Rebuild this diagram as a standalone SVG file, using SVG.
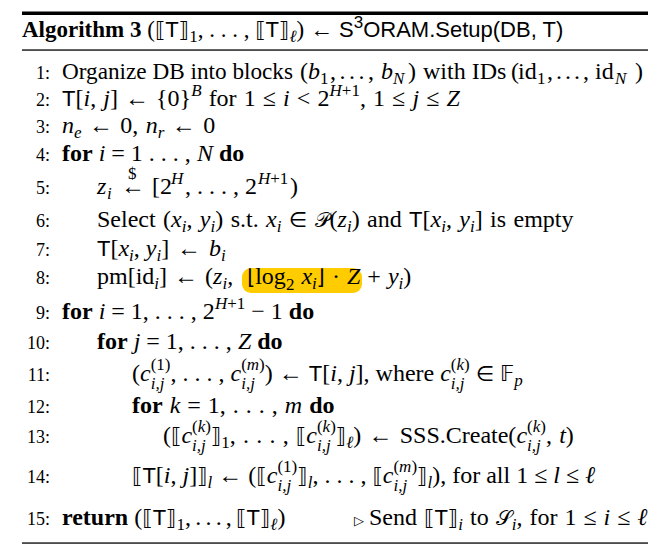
<svg xmlns="http://www.w3.org/2000/svg" width="670" height="557" viewBox="0 0 670 557">
<style>
text { font-family: "Liberation Serif", "DejaVu Serif", serif; font-size: 24px; fill: #000; }
.b { font-weight: bold; }
.i { font-style: italic; }
.sf { font-family: "Liberation Sans", "DejaVu Sans", sans-serif; font-size: 22px; }
.sy { font-family: "DejaVu Sans", "Liberation Serif", sans-serif; font-size: 21px; }
.sc { font-size: 17px; }
.ln { font-size: 18px; text-anchor: end; }
</style>
<rect width="670" height="557" fill="#fff"/>
<g id="rules">
  <rect x="22" y="11.5" width="626" height="3.5" fill="#000"/>
  <rect x="22" y="49.4" width="626" height="1.3" fill="#000"/>
  <rect x="22" y="542.4" width="626" height="1.3" fill="#000"/>
</g>
<g id="highlight">
  <rect x="242" y="268" width="120" height="25" rx="9" fill="#FFCC00"/>
</g>
<g id="title">
  <text x="22" y="37" style="font-size:23px"><tspan class="b">Algorithm 3</tspan> (<tspan class="sy">⟦</tspan><tspan class="sf">T</tspan><tspan class="sy">⟧</tspan><tspan class="sc" dy="5">1</tspan><tspan dy="-5">, . . . , </tspan><tspan class="sy">⟦</tspan><tspan class="sf">T</tspan><tspan class="sy">⟧</tspan><tspan class="sc i" dy="5">ℓ</tspan><tspan dy="-5">) ←</tspan><tspan x="339" class="sf">S</tspan><tspan class="sc" dy="-9" style="font-family:'Liberation Sans',sans-serif">3</tspan><tspan class="sf" dy="9">ORAM.Setup(DB, T)</tspan></text>
</g>
<g id="line-numbers">
  <text class="ln" x="50" y="79">1:</text>
  <text class="ln" x="50" y="106">2:</text>
  <text class="ln" x="50" y="133">3:</text>
  <text class="ln" x="50" y="161">4:</text>
  <text class="ln" x="50" y="194">5:</text>
  <text class="ln" x="50" y="227">6:</text>
  <text class="ln" x="50" y="256">7:</text>
  <text class="ln" x="50" y="284">8:</text>
  <text class="ln" x="50" y="319">9:</text>
  <text class="ln" x="50" y="349">10:</text>
  <text class="ln" x="50" y="381">11:</text>
  <text class="ln" x="50" y="413">12:</text>
  <text class="ln" x="50" y="443">13:</text>
  <text class="ln" x="50" y="483">14:</text>
  <text class="ln" x="50" y="525">15:</text>
</g>
<g id="line1">
  <text y="79"><tspan x="62" textLength="231" lengthAdjust="spacingAndGlyphs">Organize DB into blocks</tspan><tspan x="300">(</tspan><tspan x="308" class="i">b</tspan><tspan x="320" y="84" class="sc">1</tspan><tspan x="330" y="79" textLength="44" lengthAdjust="spacing">, . . . ,</tspan><tspan x="381" class="i">b</tspan><tspan x="393" y="84" class="sc i">N</tspan><tspan x="408" y="79">)</tspan><tspan x="423">with IDs</tspan><tspan x="511">(</tspan><tspan x="518">id</tspan><tspan x="537" y="84" class="sc">1</tspan><tspan x="547" y="79" textLength="42" lengthAdjust="spacing">, . . . ,</tspan><tspan x="595">id</tspan><tspan x="615" y="84" class="sc i">N</tspan><tspan x="635" y="79">)</tspan></text>
</g>
<g id="line2">
  <text x="62" y="106" style="word-spacing:1.1px"><tspan class="sf">T</tspan>[<tspan class="i">i</tspan>, <tspan class="i">j</tspan>] ← {0}<tspan class="sc i" dy="-10">B</tspan><tspan dy="10"> for 1 ≤ </tspan><tspan class="i">i</tspan> &lt; 2<tspan class="sc" dy="-10"><tspan class="i">H</tspan>+1</tspan><tspan dy="10">, 1 ≤ </tspan><tspan class="i">j</tspan> ≤ <tspan class="i">Z</tspan></text>
</g>
<g id="line3">
  <text x="62" y="133" style="word-spacing:1.4px"><tspan class="i">n</tspan><tspan class="sc i" dy="5">e</tspan><tspan dy="-5"> ← 0, </tspan><tspan class="i">n</tspan><tspan class="sc i" dy="5">r</tspan><tspan dy="-5"> ← 0</tspan></text>
</g>
<g id="line4">
  <text x="62" y="161"><tspan class="b">for</tspan> <tspan class="i">i</tspan> = 1 . . . , <tspan class="i">N</tspan> <tspan class="b">do</tspan></text>
</g>
<g id="line5">
  <text y="194"><tspan x="97" class="i">z</tspan><tspan x="107" y="199" class="sc i">i</tspan><tspan x="121" y="194">←</tspan><tspan x="152">[2</tspan><tspan x="171" y="184" class="sc i">H</tspan><tspan x="185" y="194">, . . . , 2</tspan><tspan x="258" y="184" class="sc"><tspan class="i">H</tspan>+1</tspan><tspan x="290" y="194">)</tspan></text>
  <text x="128" y="179" class="sc">$</text>
</g>
<g id="line6">
  <text x="97" y="227" style="word-spacing:1.4px">Select (<tspan class="i">x</tspan><tspan class="sc i" dy="5">i</tspan><tspan dy="-5">, </tspan><tspan class="i">y</tspan><tspan class="sc i" dy="5">i</tspan><tspan dy="-5">) s.t. </tspan><tspan class="i">x</tspan><tspan class="sc i" dy="5">i</tspan><tspan dy="-5"> </tspan><tspan class="sy">∈</tspan> <tspan class="sy">𝒫</tspan>(<tspan class="i">z</tspan><tspan class="sc i" dy="5">i</tspan><tspan dy="-5">) and </tspan><tspan class="sf">T</tspan>[<tspan class="i">x</tspan><tspan class="sc i" dy="5">i</tspan><tspan dy="-5">, </tspan><tspan class="i">y</tspan><tspan class="sc i" dy="5">i</tspan><tspan dy="-5">] is empty</tspan></text>
</g>
<g id="line7">
  <text x="97" y="256"><tspan class="sf">T</tspan>[<tspan class="i">x</tspan><tspan class="sc i" dy="5">i</tspan><tspan dy="-5">, </tspan><tspan class="i">y</tspan><tspan class="sc i" dy="5">i</tspan><tspan dy="-5">]</tspan><tspan x="177">←</tspan><tspan x="209" class="i">b</tspan><tspan class="sc i" dy="5">i</tspan></text>
</g>
<g id="line8">
  <text x="97" y="284" style="word-spacing:1px">pm[id<tspan class="sc i" dy="5">i</tspan><tspan dy="-5">] ← (</tspan><tspan class="i">z</tspan><tspan class="sc i" dy="5">i</tspan><tspan dy="-5">,</tspan><tspan x="247" class="sy">⌊</tspan>log<tspan class="sc" dy="6">2</tspan><tspan dy="-6"> </tspan><tspan class="i">x</tspan><tspan class="sc i" dy="5">i</tspan><tspan class="sy" dy="-5">⌋</tspan> · <tspan class="i">Z</tspan> + <tspan class="i">y</tspan><tspan class="sc i" dy="5">i</tspan><tspan dy="-5">)</tspan></text>
</g>
<g id="line9">
  <text x="62" y="319"><tspan class="b">for</tspan> <tspan class="i">i</tspan> = 1, . . . , 2<tspan class="sc" dy="-10"><tspan class="i">H</tspan>+1</tspan><tspan dy="10"> − 1 </tspan><tspan class="b">do</tspan></text>
</g>
<g id="line10">
  <text x="97" y="349"><tspan class="b">for</tspan> <tspan class="i">j</tspan> = 1, . . . , <tspan class="i">Z</tspan> <tspan class="b">do</tspan></text>
</g>
<g id="line11">
  <text x="132" y="381">(<tspan class="i">c</tspan><tspan class="sc" dy="-11">(1)</tspan><tspan class="sc i" dx="-19.8" dy="19">i,j</tspan><tspan dx="6.1" dy="-8">, . . . , </tspan><tspan class="i">c</tspan><tspan class="sc" dy="-11">(<tspan class="i">m</tspan>)</tspan><tspan class="sc i" dx="-23.6" dy="19">i,j</tspan><tspan dx="9.9" dy="-8">) ← </tspan><tspan class="sf">T</tspan>[<tspan class="i">i</tspan>, <tspan class="i">j</tspan>], where <tspan class="i">c</tspan><tspan class="sc" dy="-11">(<tspan class="i">k</tspan>)</tspan><tspan class="sc i" dx="-18.9" dy="19">i,j</tspan><tspan dx="5.2" dy="-8"> </tspan><tspan class="sy">∈</tspan> <tspan class="sy">𝔽</tspan><tspan class="sc i" dy="5">p</tspan></text>
</g>
<g id="line12">
  <text x="132" y="413" style="word-spacing:1px"><tspan class="b">for</tspan> <tspan class="i">k</tspan> = 1, . . . , <tspan class="i">m</tspan> <tspan class="b">do</tspan></text>
</g>
<g id="line13">
  <text x="163" y="443" style="word-spacing:1.2px">(<tspan class="sy">⟦</tspan><tspan class="i">c</tspan><tspan class="sc" dy="-11">(<tspan class="i">k</tspan>)</tspan><tspan class="sc i" dx="-18.9" dy="19">i,j</tspan><tspan class="sy" dx="5.2" dy="-8">⟧</tspan><tspan class="sc" dy="5">1</tspan><tspan dy="-5">, . . . , </tspan><tspan class="sy">⟦</tspan><tspan class="i">c</tspan><tspan class="sc" dy="-11">(<tspan class="i">k</tspan>)</tspan><tspan class="sc i" dx="-18.9" dy="19">i,j</tspan><tspan class="sy" dx="5.2" dy="-8">⟧</tspan><tspan class="sc i" dy="5">ℓ</tspan><tspan dy="-5">) ← SSS.Create(</tspan><tspan class="i">c</tspan><tspan class="sc" dy="-11">(<tspan class="i">k</tspan>)</tspan><tspan class="sc i" dx="-18.9" dy="19">i,j</tspan><tspan dx="5.2" dy="-8">, </tspan><tspan class="i">t</tspan>)</text>
</g>
<g id="line14">
  <text x="132" y="483"><tspan class="sy">⟦</tspan><tspan class="sf">T</tspan>[<tspan class="i">i</tspan>, <tspan class="i">j</tspan>]<tspan class="sy">⟧</tspan><tspan class="sc i" dy="5">l</tspan><tspan dy="-5"> ← (</tspan><tspan class="sy">⟦</tspan><tspan class="i">c</tspan><tspan class="sc" dy="-11">(1)</tspan><tspan class="sc i" dx="-19.8" dy="19">i,j</tspan><tspan class="sy" dx="6.1" dy="-8">⟧</tspan><tspan class="sc i" dy="5">l</tspan><tspan dy="-5">, . . . , </tspan><tspan class="sy">⟦</tspan><tspan class="i">c</tspan><tspan class="sc" dy="-11">(<tspan class="i">m</tspan>)</tspan><tspan class="sc i" dx="-23.6" dy="19">i,j</tspan><tspan class="sy" dx="9.9" dy="-8">⟧</tspan><tspan class="sc i" dy="5">l</tspan><tspan dy="-5">), for all 1 ≤ </tspan><tspan class="i">l</tspan> ≤ <tspan class="i">ℓ</tspan></text>
</g>
<g id="line15">
  <text x="62" y="525"><tspan class="b">return</tspan> (<tspan class="sy">⟦</tspan><tspan class="sf">T</tspan><tspan class="sy">⟧</tspan><tspan class="sc" dy="5">1</tspan><tspan dy="-5" textLength="52" lengthAdjust="spacing">, . . . , </tspan><tspan class="sy">⟦</tspan><tspan class="sf">T</tspan><tspan class="sy">⟧</tspan><tspan class="sc i" dy="5">ℓ</tspan><tspan dy="-5">)</tspan></text>
  <text x="354" y="525" style="word-spacing:1px"><tspan class="sy" style="font-size:13px">▷</tspan><tspan x="369">Send </tspan><tspan class="sy">⟦</tspan><tspan class="sf">T</tspan><tspan class="sy">⟧</tspan><tspan class="sc i" dy="5">i</tspan><tspan dy="-5"> to </tspan><tspan class="sy">𝒮</tspan><tspan class="sc i" dy="5">i</tspan><tspan dy="-5">, for 1 ≤ </tspan><tspan class="i">i</tspan> ≤ <tspan class="i">ℓ</tspan></text>
</g>
</svg>
